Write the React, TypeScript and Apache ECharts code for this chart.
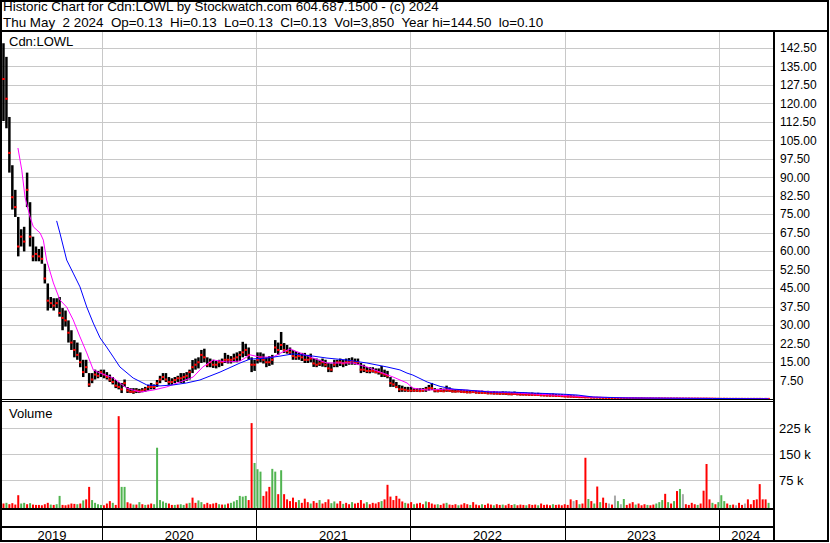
import React, { useEffect, useRef } from 'react';
import * as echarts from 'echarts';

const FONT = '"Liberation Sans", Arial, Helvetica, sans-serif';

const headerLine1 = 'Historic Chart for Cdn:LOWL by Stockwatch.com 604.687.1500 - (c) 2024';
const headerLine2 = 'Thu May  2 2024  Op=0.13  Hi=0.13  Lo=0.13  Cl=0.13  Vol=3,850  Year hi=144.50  lo=0.10';
const symbolLabel = 'Cdn:LOWL';
const volumeLabel = 'Volume';

const DAY = 86400000;
const axisStart = Date.UTC(2019, 4, 9);
const axisEnd = Date.UTC(2024, 4, 9);
const years = [2019, 2020, 2021, 2022, 2023, 2024];

// weekly buckets starting 2019-05-09
const weekHigh = [
  144.5, 139, 114.6, 95, 85, 74, 69, 70, 92, 80,
  66, 62, 61, 62, 55, 47, 41.5, 41, 41, 41.5,
  37, 36, 32, 28, 24, 23, 19, 16, 16, 10.6,
  10.6, 12, 11.5, 12, 12, 11, 10, 9, 7.8, 7,
  6.6, 8, 5, 4.5, 4.5, 4.5, 4.2, 4.5, 5, 5.8,
  6.6, 6, 7.8, 9.5, 10.6, 10.6, 9, 8.5, 9, 9.5,
  10.6, 10.6, 11, 12, 15.9, 16.5, 17, 20, 20.5, 17,
  16.5, 16, 15.5, 16, 16.5, 18.8, 18, 17.5, 18.5, 19,
  19.5, 23.3, 22.5, 21, 17, 16, 19, 19, 18.5, 17,
  17.5, 18, 24, 23, 27.3, 22.8, 22, 21, 20, 19.5,
  19, 18.8, 18.8, 18, 18.5, 16.7, 16.5, 16, 16.5, 16,
  14.7, 14.5, 16, 16, 16.5, 16, 16.5, 16.7, 17, 16.5,
  16.5, 14.7, 14, 13.1, 13, 13, 12.5, 12.5, 13.5, 12,
  11.5, 9, 8, 7, 5.8, 5.5, 5, 5, 5, 4.5,
  4.5, 4.5, 4.5, 5, 5.8, 6.6, 4.5, 4.2, 4.5, 4.3,
  5.5, 4.8, 4.2, 4, 4.1, 3.9, 3.8, 3.8, 3.6, 3.7,
  3.5, 3.4, 3.5, 3.3, 3.4, 3.2, 3.3, 3.1, 3, 3.2,
  3.1, 3, 2.9, 3.1, 2.9, 2.8, 2.8, 2.7, 2.6, 2.7,
  2.5, 2.6, 2.4, 2.3, 2.4, 2.2, 2.3, 2.1, 2, 2,
  1.9, 1.8, 1.7, 1.6, 1.5, 1.4, 1.3, 1.2, 1.1, 1,
  0.9, 0.9, 0.85, 0.8, 0.8, 0.75, 0.8, 0.7, 0.7, 0.7,
  0.65, 0.6, 0.6, 0.65, 0.6, 0.55, 0.6, 0.55, 0.5, 0.55,
  0.5, 0.5, 0.55, 0.5, 0.5, 0.45, 0.5, 0.45, 0.5, 0.45,
  0.45, 0.4, 0.45, 0.4, 0.4, 0.45, 0.4, 0.4, 0.45, 0.4,
  0.4, 0.35, 0.35, 0.3, 0.35, 0.3, 0.3, 0.3, 0.28, 0.3,
  0.28, 0.25, 0.28, 0.25, 0.25, 0.22, 0.25, 0.22, 0.2, 0.2,
];
const weekLow = [
  113, 110, 92, 77, 74, 58, 62, 60, 78, 62,
  56, 56, 56, 55, 47, 36, 37, 36, 37, 33.5,
  28, 29.5, 23, 20, 17, 16, 13, 9, 10.6, 5,
  6.5, 8, 8.5, 9, 8.5, 8, 7, 6, 4.5, 4,
  2.5, 5, 2.5, 2.5, 2.2, 2.5, 2.5, 2.8, 3, 3.5,
  4, 4, 5, 6.5, 7.8, 7, 5.8, 5.8, 6.5, 7,
  6.6, 6.6, 7.5, 8, 10.6, 12, 12.5, 14.7, 15, 13,
  13, 12.7, 12.5, 13, 13.5, 14.7, 14.5, 14.5, 15, 15,
  15.5, 17, 17.5, 16, 11, 11.5, 14.5, 15, 14.5, 13,
  13.5, 14, 18.8, 18, 20, 18.8, 18.5, 18, 16, 16,
  16, 15.5, 14.7, 14.7, 15, 13.1, 13, 13.5, 13.2, 13,
  11, 11, 13, 13, 13.5, 13, 13.5, 14, 14, 14,
  14, 10.6, 11, 10.6, 10.5, 10.8, 10.5, 10, 9, 9,
  8.5, 5, 5, 4.5, 2.9, 3, 3, 3, 2.9, 3,
  3, 2.9, 3, 3, 3.5, 3.7, 2.8, 2.8, 2.9, 2.9,
  3, 3, 2.7, 2.7, 2.8, 2.6, 2.5, 2.4, 2.4, 2.5,
  2.3, 2.2, 2.2, 2.1, 2, 2, 1.9, 1.9, 1.8, 1.8,
  1.7, 1.6, 1.6, 1.7, 1.6, 1.5, 1.5, 1.5, 1.4, 1.4,
  1.3, 1.3, 1.2, 1.2, 1.1, 1.1, 1.1, 1, 1, 0.9,
  0.8, 0.8, 0.7, 0.7, 0.6, 0.6, 0.5, 0.5, 0.5, 0.4,
  0.4, 0.4, 0.35, 0.35, 0.3, 0.3, 0.32, 0.3, 0.3, 0.28,
  0.28, 0.25, 0.25, 0.28, 0.25, 0.24, 0.25, 0.22, 0.22, 0.23,
  0.22, 0.2, 0.22, 0.2, 0.2, 0.18, 0.2, 0.18, 0.2, 0.18,
  0.18, 0.17, 0.18, 0.16, 0.16, 0.17, 0.15, 0.16, 0.17, 0.15,
  0.15, 0.14, 0.13, 0.12, 0.13, 0.12, 0.12, 0.11, 0.12, 0.1,
  0.11, 0.1, 0.11, 0.1, 0.12, 0.1, 0.11, 0.1, 0.12, 0.11,
];
const weekClose = [
  130, 122, 100, 82, 78, 62, 66, 64, 85, 66,
  58, 59, 58, 57, 49, 40, 39, 38, 39, 35,
  33, 32, 27, 23, 20, 18, 15, 11, 13, 6,
  8, 10, 9.5, 11, 10, 9, 8, 7, 5.5, 5,
  4, 6.5, 3.5, 3, 3, 3.5, 3.2, 3.5, 4, 5,
  5, 5, 6.5, 8, 9, 8, 7, 7, 7.8, 8.5,
  8.5, 9, 9.5, 11, 13, 14, 15, 18, 17, 14,
  15, 14, 14, 15, 15, 16, 16, 16, 16.5, 17,
  18, 19, 20, 18, 14, 14, 16, 17, 16, 15,
  15, 16, 21, 20, 22, 20, 19.5, 19, 17.5, 17,
  17.5, 17, 16, 16, 16.5, 14.5, 14, 14.5, 15, 14,
  12.5, 12, 14, 15, 15, 14.5, 15, 15, 15.5, 15,
  15, 12, 12, 11.5, 11.5, 11.5, 11, 11, 10.5, 10,
  9.5, 6.5, 6, 5, 4, 4, 3.8, 3.5, 3.5, 3.5,
  3.5, 3.3, 3.5, 4, 4.5, 4.5, 3.5, 3.3, 3.4, 3.2,
  3.6, 3.4, 3.2, 3.1, 3.2, 3, 2.9, 2.8, 2.8, 2.9,
  2.7, 2.6, 2.6, 2.5, 2.4, 2.4, 2.3, 2.3, 2.2, 2.3,
  2.2, 2.1, 2, 2.1, 2, 1.9, 1.9, 1.8, 1.8, 1.8,
  1.7, 1.7, 1.6, 1.5, 1.5, 1.4, 1.4, 1.3, 1.3, 1.2,
  1.1, 1, 1, 0.9, 0.9, 0.8, 0.8, 0.7, 0.7, 0.6,
  0.6, 0.6, 0.55, 0.5, 0.5, 0.45, 0.5, 0.45, 0.45, 0.45,
  0.4, 0.4, 0.4, 0.42, 0.4, 0.38, 0.4, 0.35, 0.35, 0.36,
  0.35, 0.33, 0.35, 0.32, 0.32, 0.3, 0.32, 0.3, 0.32, 0.3,
  0.3, 0.28, 0.3, 0.27, 0.27, 0.28, 0.26, 0.27, 0.28, 0.26,
  0.25, 0.22, 0.2, 0.18, 0.2, 0.18, 0.17, 0.16, 0.17, 0.15,
  0.16, 0.14, 0.15, 0.14, 0.15, 0.14, 0.15, 0.13, 0.14, 0.13,
];
// largest daily volume in each week, thousands of shares
const weekVolumeK = [
  8, 10, 6, 9, 5, 32, 8, 10, 6, 9,
  5, 4, 4, 3, 6, 10, 5, 4, 6, 30,
  4, 3, 5, 8, 7, 6, 8, 17, 20, 56,
  18, 10, 6, 4, 3, 8, 15, 10, 4, 260,
  56, 56, 12, 8, 5, 5, 12, 6, 4, 5,
  8, 6, 169, 18, 14, 10, 8, 4, 4, 5,
  6, 4, 8, 10, 25, 10, 17, 12, 6, 10,
  6, 8, 10, 6, 5, 5, 8, 10, 14, 18,
  30, 28, 30, 18, 240, 125, 107, 100, 30, 43,
  56, 108, 100, 35, 104, 35, 20, 15, 25, 12,
  18, 10, 22, 12, 8, 15, 10, 18, 8, 12,
  20, 9, 14, 8, 15, 7, 10, 6, 12, 8,
  10, 18, 8, 12, 6, 10, 8, 12, 15, 20,
  62, 28, 18, 30, 22, 14, 10, 8, 12, 6,
  8, 10, 6, 14, 12, 8, 5, 6, 4, 8,
  10, 5, 4, 6, 3, 5, 9, 6, 4, 12,
  5, 3, 6, 4, 8, 5, 3, 6, 4, 5,
  3, 7, 4, 6, 3, 5, 4, 3, 6, 4,
  5, 3, 8, 4, 5, 3, 6, 4, 5, 3,
  6, 4, 20, 15, 18, 6, 8, 140, 21, 15,
  8, 57, 12, 25, 10, 8, 5, 31, 15, 6,
  21, 4, 8, 12, 5, 8, 3, 6, 4, 3,
  5, 8, 12, 18, 36, 12, 8, 15, 44, 50,
  35, 6, 4, 10, 6, 4, 8, 45, 122, 20,
  10, 6, 12, 32, 15, 8, 4, 5, 3, 10,
  4, 8, 20, 6, 18, 20, 64, 20, 20, 10,
];
// r = down, g = up, y = unchanged
const weekVolumeColor =
  'rgrrrrggrg' + 'rrrrrrgrgg' + 'rrrrrgrgrr' + 'ggggrrrgrr' + 'ggrrgrgrgr' +
  'rgggggrrgr' + 'ggrgrrggrr' + 'rrrgrgrggg' + 'gggrrgggrr' + 'rggrgrrrrr' +
  'grrrgrrgrr' + 'rggrrgrrgr' + 'rrrgrrrrgr' + 'rrrrrrgrrg' + 'rrrgrrrgrr' +
  'grrrgrrrgr' + 'rrgrrrgrrg' + 'rrrgrrrgrr' + 'rgrrrrgrrr' + 'rrryrgrrgr' +
  'grgrryrygy' + 'grrrgrrrgr' + 'rgggrgrgrg' + 'yrrrrgrrrr' + 'grgggrgryr' +
  'ryrrrrrrrg';

const maFastWeek = [4.9, 6.2, 7.3, 9, 10.1, 12.4, 13.5, 14.6, 16.9, 19.1, 21.4, 23.6, 25.9, 28.2, 30.4, 32.7, 37.2, 41.7, 46.2, 50.7, 55.3, 59.8, 64.2, 67.5, 71, 75.7, 80.1, 83.5, 86.8, 91.2, 94.6, 97, 100.4, 104.8, 109.5, 113.9, 118.3, 123, 127.5, 131.9, 136.6, 138.6, 143.4, 150.1, 161.3, 175, 188, 200, 215, 235, 259];
const maFastValue = [102, 93, 82, 74, 70, 67.5, 64.6, 56.5, 47.2, 40.3, 37.4, 32.2, 25.3, 18.8, 11.9, 10.6, 8.6, 4.5, 2.9, 3.7, 5, 7, 9, 13.1, 15.9, 15.1, 15.5, 18, 17.1, 17.1, 19.2, 20.4, 18.8, 16.7, 14.7, 14.7, 14.7, 13.1, 11, 9, 6.6, 4.5, 3.7, 4.1, 3.3, 2.4, 1.6, 0.8, 0.5, 0.35, 0.15];
const maSlowWeek = [18, 19.1, 21.4, 23.6, 25.9, 28.2, 30.4, 32.7, 34.9, 37.2, 39.4, 43.9, 48.5, 53, 57.5, 62, 66.5, 73.3, 80.1, 83.5, 89.2, 93.6, 98, 104.8, 109.5, 116.3, 123, 129.8, 134.2, 136.6, 138.6, 143.4, 147.8, 152.2, 156.9, 164.7, 171.5, 179.3, 188.4, 194.2, 199.6, 211.1, 240, 259];
const maSlowValue = [72.4, 67.5, 56.5, 51.2, 45.6, 37.4, 30.9, 24.9, 21.2, 17.1, 13.1, 8.6, 5.8, 5.4, 5.8, 6.6, 7.8, 11, 14.7, 16.3, 16.7, 17.5, 18.4, 17.5, 16.7, 15.9, 14.7, 13.1, 11.9, 10.6, 9.8, 7, 5.2, 4.1, 3.7, 2.9, 2.9, 2.5, 2.1, 1.7, 0.9, 0.5, 0.3, 0.15];

const priceTicks = { min: 0, max: 149.5, interval: 7.5 };
const volumeTicks = { min: 0, max: 300000, interval: 75000 };

const weekTime = (w: number) => axisStart + (7 * w + 3.5) * DAY;
const volColors: Record<string, string> = { r: '#ff0000', g: '#50b450', y: '#a8a8a8' };
const GRID_COLOR = '#c8c8c8';

export default function App() {
  const ref = useRef<HTMLDivElement>(null);
  useEffect(() => {
    if (!ref.current) return;
    const chart = echarts.init(ref.current, undefined, { renderer: 'svg' });

    const yearBoundaries = years.slice(1).map((y) => [Date.UTC(y, 0, 1), 0]);
    const gridLineRender = (params: any, api: any) => {
      const x = Math.round(api.coord([api.value(0), 0])[0]) + 0.5;
      const cs = params.coordSys;
      return {
        type: 'line',
        shape: { x1: x, y1: cs.y, x2: x, y2: cs.y + cs.height },
        style: { stroke: GRID_COLOR, lineWidth: 1 },
      };
    };

    const priceData = weekHigh.map((h, i) => [weekTime(i), h, weekLow[i], weekClose[i]]);
    const volumeData = weekVolumeK.map((v, i) => [weekTime(i), v * 1000, weekVolumeColor[i]]);
    const fastData = maFastWeek.map((w, k) => [weekTime(w), maFastValue[k]]);
    const slowData = maSlowWeek.map((w, k) => [weekTime(w), maSlowValue[k]]);
    const yearData = years.map((y) => [Date.UTC(y, 0, 1), Date.UTC(y + 1, 0, 1), y]);

    const xAxisBase = { type: 'time', min: axisStart, max: axisEnd, show: false };

    const black = (x: number, y: number, w: number, h: number) => ({
      type: 'rect', z: 100, silent: true, shape: { x, y, width: w, height: h }, style: { fill: '#000' },
    });
    const label = (text: string, x: number, y: number, size: number) => ({
      type: 'text', z: 100, silent: true,
      style: { text, x, y, fill: '#000', font: `${size}px ${FONT}`, textAlign: 'left', textVerticalAlign: 'middle' },
    });

    chart.setOption({
      animation: false,
      backgroundColor: '#ffffff',
      textStyle: { fontFamily: FONT },
      grid: [
        { left: 2, right: 57, top: 31, height: 368.2 },
        { left: 2, right: 57, top: 402.3, height: 104 },
        { left: 2, right: 57, top: 510, height: 30 },
      ],
      xAxis: [
        { ...xAxisBase, gridIndex: 0 },
        { ...xAxisBase, gridIndex: 1 },
        { ...xAxisBase, gridIndex: 2 },
      ],
      yAxis: [
        {
          type: 'value', gridIndex: 0, position: 'right', ...priceTicks,
          axisLine: { show: false }, axisTick: { show: false },
          axisLabel: {
            margin: 7, fontSize: 12, color: '#000', fontFamily: FONT,
            showMinLabel: false, showMaxLabel: false,
            formatter: (v: number) => v.toFixed(2),
          },
          splitLine: { show: true, showMinLine: false, showMaxLine: false, lineStyle: { color: GRID_COLOR, width: 1 } },
        },
        {
          type: 'value', gridIndex: 1, position: 'right', ...volumeTicks,
          axisLine: { show: false }, axisTick: { show: false },
          axisLabel: {
            margin: 6, fontSize: 13, color: '#000', fontFamily: FONT,
            showMinLabel: false, showMaxLabel: false,
            formatter: (v: number) => `${v / 1000} k`,
          },
          splitLine: { show: true, showMinLine: false, showMaxLine: false, lineStyle: { color: GRID_COLOR, width: 1 } },
        },
        { type: 'value', gridIndex: 2, min: 0, max: 1, show: false },
      ],
      series: [
        {
          type: 'custom', xAxisIndex: 0, yAxisIndex: 0, z: 1, silent: true,
          data: yearBoundaries, renderItem: gridLineRender,
        },
        {
          type: 'custom', name: 'Price', xAxisIndex: 0, yAxisIndex: 0, z: 2, silent: true,
          encode: { x: 0, y: [1, 2, 3] },
          data: priceData,
          renderItem: (params: any, api: any) => {
            const t = api.value(0);
            const top = api.coord([t, api.value(1)]);
            const bot = api.coord([t, api.value(2)]);
            const c = api.coord([t, api.value(3)]);
            return {
              type: 'group',
              children: [
                { type: 'rect', shape: { x: top[0] - 1.25, y: top[1], width: 2.5, height: Math.max(bot[1] - top[1], 1) }, style: { fill: '#000' } },
                { type: 'rect', shape: { x: c[0] - 1.25, y: c[1] - 1, width: 2.5, height: 2 }, style: { fill: '#ff0000' } },
              ],
            };
          },
        },
        {
          type: 'line', name: 'MA fast', xAxisIndex: 0, yAxisIndex: 0, z: 3, silent: true,
          data: fastData, showSymbol: false, symbol: 'none',
          lineStyle: { color: '#ff00ff', width: 1 },
        },
        {
          type: 'line', name: 'MA slow', xAxisIndex: 0, yAxisIndex: 0, z: 3, silent: true,
          data: slowData, showSymbol: false, symbol: 'none',
          lineStyle: { color: '#0000ff', width: 1 },
        },
        {
          type: 'custom', xAxisIndex: 1, yAxisIndex: 1, z: 1, silent: true,
          data: yearBoundaries, renderItem: gridLineRender,
        },
        {
          type: 'custom', name: 'Volume', xAxisIndex: 1, yAxisIndex: 1, z: 2, silent: true,
          encode: { x: 0, y: 1 },
          data: volumeData,
          renderItem: (params: any, api: any) => {
            const t = api.value(0);
            const top = api.coord([t, api.value(1)]);
            const cs = params.coordSys;
            const bottom = cs.y + cs.height + 2;
            const code = volumeData[params.dataIndex][2] as string;
            return {
              type: 'rect',
              shape: { x: top[0] - 1, y: top[1], width: 2, height: bottom - top[1] },
              style: { fill: volColors[code] },
            };
          },
        },
        {
          type: 'custom', name: 'Years', xAxisIndex: 2, yAxisIndex: 2, z: 5, silent: true,
          data: yearData,
          renderItem: (params: any, api: any) => {
            const cs = params.coordSys;
            const xs = api.coord([api.value(0), 0])[0];
            const xe = api.coord([api.value(1), 0])[0];
            const a = Math.max(xs, cs.x);
            const b = Math.min(xe, cs.x + cs.width);
            const children: any[] = [
              {
                type: 'text',
                style: {
                  text: String(api.value(2)), x: (a + b) / 2, y: cs.y + 25,
                  fill: '#000', font: `13px ${FONT}`, textAlign: 'center', textVerticalAlign: 'middle',
                },
              },
            ];
            if (xs > cs.x + 1) {
              const lx = Math.round(xs) + 0.5;
              children.push({ type: 'line', shape: { x1: lx, y1: cs.y, x2: lx, y2: cs.y + cs.height }, style: { stroke: '#000', lineWidth: 1 } });
            }
            return { type: 'group', children };
          },
        },
      ],
      graphic: {
        elements: [
          black(0, 0, 829, 2),
          black(0, 0, 2, 542),
          black(827, 0, 2, 542),
          black(0, 540, 829, 2),
          black(0, 30, 829, 2),
          black(773, 30, 2, 512),
          black(0, 399, 775, 1),
          black(0, 401, 775, 1),
          black(0, 508, 775, 2),
          black(0, 526, 775, 2),
          label(headerLine1, 3, 6, 13.4),
          label(headerLine2, 3, 22.5, 13.4),
          label(symbolLabel, 9, 41.5, 13),
          label(volumeLabel, 9, 413.5, 13),
        ],
      },
    });
    return () => chart.dispose();
  }, []);

  return (
    <div
      ref={ref}
      style={{ position: 'fixed', left: 0, top: 0, width: 830, height: 543, background: '#fff' }}
    />
  );
}
